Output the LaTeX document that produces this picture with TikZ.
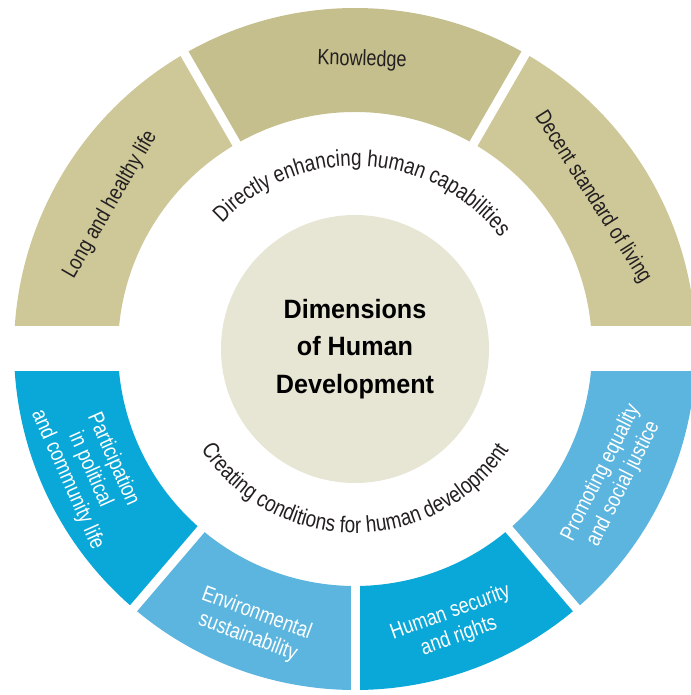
\documentclass[tikz,border=0pt]{standalone}
\usepackage{fontspec}
\setmainfont{Liberation Sans}[FakeStretch=0.82]
\newfontfamily\titlefont{Liberation Sans}[FakeStretch=0.95]
\usepackage{tikz}
\usetikzlibrary{decorations.text}
\definecolor{khaki}{HTML}{CEC899}
\definecolor{khakidk}{HTML}{C5BF8D}
\definecolor{ocean}{HTML}{0AA8D8}
\definecolor{sky}{HTML}{5BB5DE}
\definecolor{core}{HTML}{E7E5D3}
\definecolor{ink}{HTML}{231F20}
\newcommand{\ringfont}{\fontsize{22}{25}\selectfont}
\newcommand{\arcfont}{\fontsize{23}{25}\selectfont}
\newcommand{\ringseg}[3]{%
  \fill[#3] (#1:237) arc[start angle=#1,end angle=#2,radius=237pt]
    -- (#2:341) arc[start angle=#2,end angle=#1,radius=341pt] -- cycle;}
\tikzset{
  gapline/.style={white,line width=9pt},
  toplabel/.style={font=\ringfont,text=ink,align=center,inner sep=1pt},
  lowlabel/.style={font=\ringfont,text=white,align=center,inner sep=1pt},
  corecircle/.style={circle,fill=core,minimum size=268pt,inner sep=0pt,
                     align=center,text=black,
                     font=\titlefont\bfseries\fontsize{26.5}{37.5}\selectfont},
}
\begin{document}
\begin{tikzpicture}[x=1pt,y=1pt]
  \useasboundingbox (-355,-346) rectangle (335,349);
  % ring segments
  \ringseg{0}{60}{khaki}
  \ringseg{60}{120}{khakidk}
  \ringseg{120}{180}{khaki}
  \ringseg{180}{229.5}{ocean}
  \ringseg{229.5}{270}{sky}
  \ringseg{270}{310.5}{ocean}
  \ringseg{310.5}{360}{sky}
  % white gaps
  \foreach \a in {60,120,229.5,270,310.5}
    \draw[gapline] (\a:220) -- (\a:360);
  \fill[white] (-360,-22) rectangle (360,23);
  % centre
  \node[corecircle] (core) at (0,0) {Dimensions\\of Human\\Development};
  % labels in the ring
  \node[toplabel,rotate=60] (health) at (149.5:284) {Long and healthy life};
  \node[toplabel,rotate=-1.5] (know) at (88.6:289) {Knowledge};
  \node[toplabel,rotate=-57.5] (living) at (32.5:282) {Decent standard of living};
  \node[lowlabel,rotate=-66] (partic) at (204.5:291)
    {Participation\\in political\\and community life};
  \node[lowlabel,rotate=-20.4] (envir) at (249.6:295)
    {Environmental\\sustainability};
  \node[lowlabel,rotate=19.9] (secur) at (289.9:293)
    {Human security\\and rights};
  \node[lowlabel,rotate=63.3] (equal) at (333.3:288)
    {Promoting equality\\and social justice};
  % curved captions
  \path[decorate,decoration={text along path,text align=center,
        text={|\arcfont\color{ink}|Directly enhancing human capabilities}}]
    (147:183) arc[start angle=147,end angle=27,radius=183pt];
  \path[decorate,decoration={text along path,text align=center,
        text={|\arcfont\color{ink}|Creating conditions for human development}}]
    (200:184) arc[start angle=200,end angle=340,radius=184pt];
\end{tikzpicture}
\end{document}
